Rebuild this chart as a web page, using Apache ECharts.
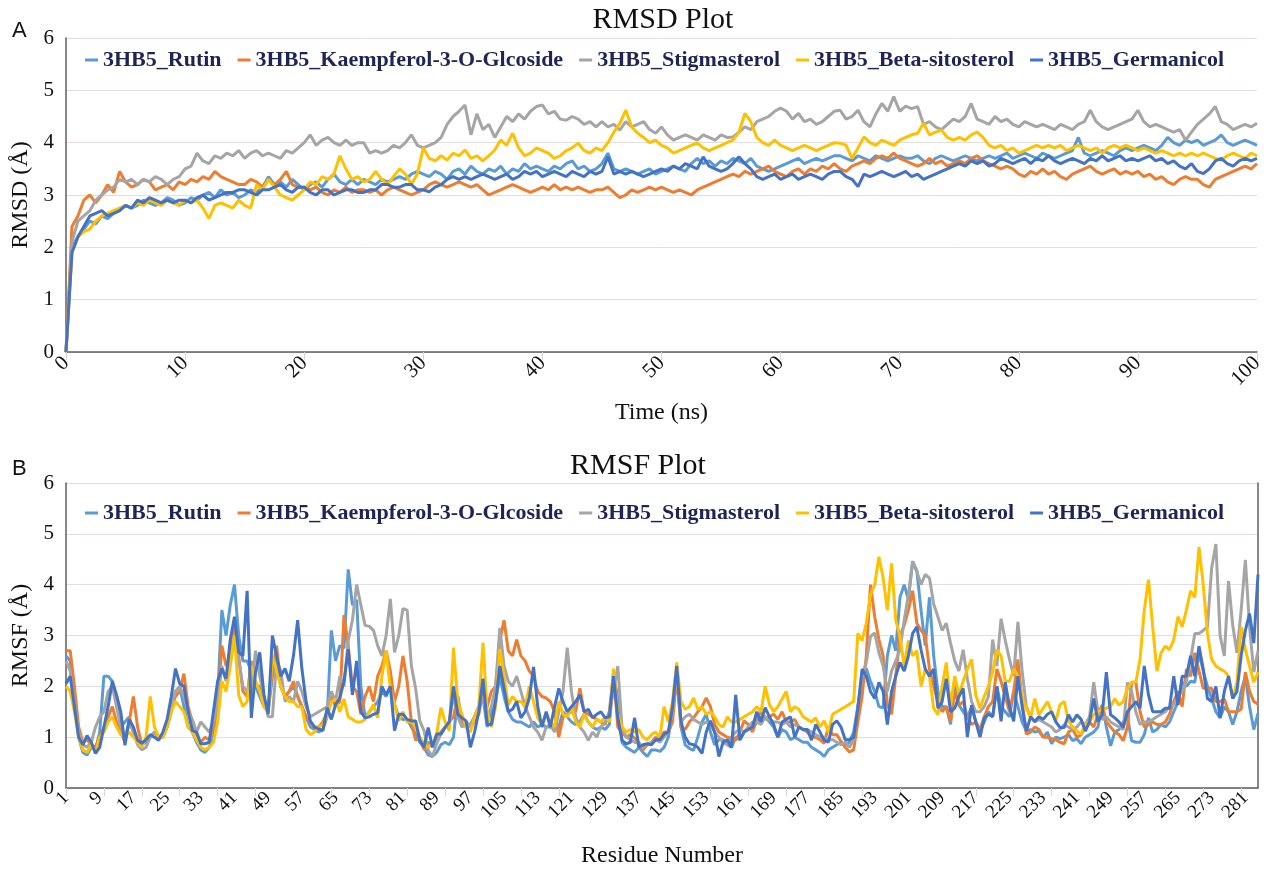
<!DOCTYPE html>
<html>
<head>
<meta charset="UTF-8">
<title>RMSD / RMSF Plot</title>
<style>
  html, body { margin: 0; padding: 0; background: #fff; }
  #chart { width: 1268px; height: 869px; }
</style>
</head>
<body>
<div id="chart"></div>
<script src="https://cdn.jsdelivr.net/npm/echarts/dist/echarts.min.js"></script>
<script>
// series names and colours (Excel palette)
var names = ['3HB5_Rutin', '3HB5_Kaempferol-3-O-Glcoside', '3HB5_Stigmasterol', '3HB5_Beta-sitosterol', '3HB5_Germanicol'];
var colors = ['#5b9bd5', '#ed7d31', '#a5a5a5', '#ffc000', '#4472c4'];

// RMSD: one value every 0.5 ns, 0..100 ns
var rmsdRutin = [
  0, 2.0, 2.2, 2.35, 2.5, 2.45, 2.6, 2.55, 2.65, 2.7,
  2.8, 2.75, 2.8, 2.9, 2.85, 2.8, 2.85, 2.95, 2.9, 2.8,
  2.85, 2.95, 2.9, 3.0, 3.05, 2.95, 3.1, 3.0, 3.05, 2.95,
  3.0, 3.1, 3.05, 3.15, 3.35, 3.2, 3.25, 3.15, 3.3, 3.2,
  3.1, 3.2, 3.25, 3.15, 3.3, 3.4, 3.25, 3.2, 3.3, 3.2,
  3.3, 3.25, 3.2, 3.3, 3.25, 3.3, 3.35, 3.3, 3.4, 3.45,
  3.4, 3.35, 3.45, 3.4, 3.3, 3.45, 3.5, 3.4, 3.55, 3.45,
  3.4, 3.5, 3.45, 3.55, 3.4, 3.5, 3.45, 3.6, 3.5, 3.55,
  3.5, 3.45, 3.55, 3.5, 3.6, 3.65, 3.5, 3.55, 3.45, 3.5,
  3.6, 3.8, 3.5, 3.45, 3.5, 3.45, 3.4, 3.45, 3.5, 3.4,
  3.45, 3.5, 3.55, 3.5, 3.45, 3.6, 3.7, 3.6, 3.65, 3.55,
  3.65, 3.6, 3.7, 3.65, 3.6, 3.7, 3.55, 3.5, 3.45, 3.5,
  3.55, 3.6, 3.65, 3.7, 3.6, 3.65, 3.7, 3.65, 3.7, 3.75,
  3.75, 3.7, 3.65, 3.75, 3.7, 3.65, 3.75, 3.7, 3.65, 3.7,
  3.75, 3.7, 3.7, 3.75, 3.65, 3.6, 3.7, 3.75, 3.7, 3.65,
  3.7, 3.75, 3.7, 3.65, 3.7, 3.75, 3.7, 3.75, 3.8, 3.7,
  3.75, 3.8, 3.75, 3.7, 3.8, 3.75, 3.7, 3.75, 3.8, 3.85,
  4.1, 3.8, 3.75, 3.8, 3.85, 3.8, 3.75, 3.85, 3.9, 3.85,
  3.9, 3.95, 3.9, 3.85, 3.95, 4.1, 4.0, 3.95, 4.05, 4.0,
  4.05, 3.95, 4.0, 4.05, 4.15, 4.0, 3.95, 4.0, 4.05, 4.0,
  3.95
];
var rmsdKaempferol = [
  0, 2.4, 2.6, 2.9, 3.0, 2.85, 3.0, 3.2, 3.05, 3.45,
  3.25, 3.15, 3.2, 3.3, 3.25, 3.1, 3.15, 3.2, 3.1, 3.25,
  3.2, 3.3, 3.25, 3.35, 3.3, 3.45, 3.35, 3.3, 3.25, 3.2,
  3.2, 3.3, 3.25, 3.15, 3.3, 3.2, 3.3, 3.45, 3.2, 3.15,
  3.15, 3.1, 3.15, 3.05, 3.0, 3.1, 3.05, 3.15, 3.05, 3.1,
  3.1, 3.05, 3.1, 3.0, 3.1, 3.15, 3.1, 3.05, 3.0, 3.05,
  3.1, 3.2, 3.25, 3.2, 3.15, 3.2, 3.25, 3.2, 3.15, 3.2,
  3.1, 3.0, 3.05, 3.1, 3.15, 3.2, 3.15, 3.1, 3.05, 3.1,
  3.15, 3.1, 3.2, 3.1, 3.15, 3.1, 3.15, 3.1, 3.05, 3.1,
  3.1, 3.15, 3.05, 2.95, 3.0, 3.1, 3.05, 3.1, 3.15, 3.1,
  3.15, 3.1, 3.05, 3.1, 3.05, 3.0, 3.1, 3.15, 3.2, 3.25,
  3.3, 3.35, 3.4, 3.35, 3.45, 3.4, 3.45, 3.5, 3.55, 3.45,
  3.4, 3.35, 3.45, 3.5, 3.4, 3.5, 3.45, 3.55, 3.5, 3.6,
  3.5, 3.45, 3.55, 3.6, 3.65, 3.6, 3.7, 3.75, 3.7, 3.8,
  3.7, 3.65, 3.6, 3.55, 3.6, 3.7, 3.6, 3.65, 3.55, 3.6,
  3.65, 3.6, 3.7, 3.75, 3.65, 3.6, 3.55, 3.5, 3.55, 3.5,
  3.4, 3.35, 3.45, 3.4, 3.5, 3.4, 3.45, 3.35, 3.3, 3.4,
  3.45, 3.5, 3.55, 3.45, 3.4, 3.45, 3.5, 3.4, 3.45, 3.4,
  3.45, 3.35, 3.4, 3.3, 3.35, 3.25, 3.2, 3.3, 3.35, 3.3,
  3.3, 3.2, 3.15, 3.3, 3.35, 3.4, 3.45, 3.5, 3.55, 3.5,
  3.6
];
var rmsdStigmasterol = [
  0, 2.1, 2.5, 2.6, 2.7, 2.9, 3.0, 3.1, 3.15, 3.3,
  3.25, 3.3, 3.2, 3.3, 3.25, 3.35, 3.3, 3.2, 3.3, 3.35,
  3.5, 3.55, 3.8, 3.65, 3.6, 3.75, 3.7, 3.8, 3.75, 3.85,
  3.7, 3.8, 3.85, 3.75, 3.8, 3.75, 3.7, 3.85, 3.8, 3.9,
  4.0, 4.15, 3.95, 4.05, 4.1, 4.0, 3.95, 4.05, 3.95, 4.0,
  4.0, 3.8, 3.85, 3.8, 3.85, 3.95, 3.9, 4.0, 4.15, 3.95,
  3.9, 3.95, 4.0, 4.1, 4.35, 4.5, 4.6, 4.72, 4.15, 4.55,
  4.25, 4.35, 4.1, 4.3, 4.5, 4.4, 4.55, 4.45, 4.6, 4.69,
  4.72, 4.55, 4.6, 4.45, 4.43, 4.5, 4.45, 4.35, 4.4, 4.3,
  4.4, 4.3, 4.35, 4.24, 4.4, 4.3, 4.35, 4.4, 4.25, 4.18,
  4.3, 4.15, 4.05, 4.1, 4.15, 4.1, 4.05, 4.15, 4.1, 4.05,
  4.15, 4.1, 4.11, 4.2, 4.3, 4.25, 4.4, 4.45, 4.5, 4.6,
  4.66, 4.6, 4.45, 4.56, 4.4, 4.45, 4.35, 4.4, 4.5, 4.6,
  4.62, 4.45, 4.5, 4.62, 4.4, 4.3, 4.55, 4.75, 4.6, 4.88,
  4.6, 4.7, 4.65, 4.69, 4.35, 4.4, 4.3, 4.25, 4.35, 4.45,
  4.4, 4.5, 4.75, 4.45, 4.4, 4.35, 4.5, 4.4, 4.45, 4.35,
  4.3, 4.4, 4.35, 4.3, 4.35, 4.3, 4.25, 4.35, 4.3, 4.25,
  4.35, 4.4, 4.62, 4.4, 4.3, 4.25, 4.3, 4.35, 4.4, 4.45,
  4.62, 4.4, 4.3, 4.35, 4.3, 4.25, 4.2, 4.25, 4.05, 4.2,
  4.35, 4.45, 4.55, 4.69, 4.4, 4.35, 4.25, 4.3, 4.35, 4.3,
  4.37
];
var rmsdBeta = [
  0, 1.9, 2.2, 2.3, 2.35, 2.5, 2.6, 2.65, 2.7, 2.75,
  2.8, 2.75, 2.85, 2.8, 2.9, 2.85, 2.8, 2.9, 2.85, 2.8,
  2.9, 2.85, 2.9, 2.75, 2.55, 2.8, 2.85, 2.8, 2.75, 2.9,
  2.8, 2.75, 3.2, 3.1, 3.3, 3.15, 3.0, 2.95, 2.9, 3.0,
  3.1, 3.25, 3.2, 3.35, 3.3, 3.4, 3.75, 3.5, 3.3, 3.35,
  3.25, 3.3, 3.45, 3.3, 3.2, 3.35, 3.5, 3.4, 3.2, 3.4,
  3.9, 3.7, 3.65, 3.75, 3.67, 3.8, 3.75, 3.86, 3.7, 3.75,
  3.65, 3.75, 3.86, 4.05, 3.95, 4.18, 3.9, 3.75, 3.8, 3.9,
  3.85, 3.8, 3.7, 3.75, 3.85, 3.9, 3.99, 3.85, 3.8, 3.9,
  3.85, 4.0, 4.2, 4.37, 4.62, 4.3, 4.18, 4.1, 4.0, 4.05,
  3.95, 3.9, 3.8, 3.85, 3.9, 3.95, 3.99, 3.9, 3.85, 3.9,
  3.95, 4.0, 4.05, 4.2, 4.56, 4.4, 4.1, 4.0, 3.95, 4.05,
  3.95, 3.9, 3.85, 3.9, 3.95, 3.9, 3.85, 3.9, 3.95, 4.0,
  3.99, 3.95, 3.7, 3.9, 4.11, 4.0, 3.95, 4.05, 4.0, 3.95,
  4.05, 4.1, 4.15, 4.18, 4.37, 4.15, 4.2, 4.24, 4.1, 4.05,
  4.1, 4.05, 4.15, 4.2, 4.1, 3.95, 3.9, 3.95, 3.85, 3.9,
  3.8, 3.85, 3.9, 3.95, 3.9, 3.95, 3.9, 3.95, 3.85, 3.9,
  3.95, 3.9, 3.85, 3.9, 3.8, 3.9, 3.95, 3.9, 3.95, 3.9,
  3.85, 3.9, 3.85, 3.8, 3.85, 3.8, 3.75, 3.8, 3.75, 3.8,
  3.75, 3.8, 3.75, 3.7, 3.67, 3.75, 3.8, 3.75, 3.7, 3.8,
  3.75
];
var rmsdGermanicol = [
  0, 1.9, 2.2, 2.4, 2.6, 2.65, 2.7, 2.6, 2.65, 2.7,
  2.8, 2.75, 2.9, 2.85, 2.95, 2.9, 2.85, 2.9, 2.85, 2.9,
  2.9, 2.85, 2.95, 3.0, 2.9, 2.95, 3.0, 3.05, 3.05, 3.1,
  3.1, 3.05, 3.0, 3.1, 3.1, 3.15, 3.2, 3.1, 3.05, 3.15,
  3.15, 3.05, 3.0, 3.1, 3.1, 3.0, 3.05, 3.1, 3.1, 3.05,
  3.05, 3.1, 3.1, 3.2, 3.2, 3.15, 3.15, 3.2, 3.2, 3.1,
  3.1, 3.06, 3.15, 3.2, 3.3, 3.35, 3.3, 3.35, 3.3, 3.35,
  3.4, 3.35, 3.3, 3.35, 3.4, 3.3, 3.35, 3.45, 3.4, 3.45,
  3.35, 3.4, 3.45, 3.4, 3.35, 3.45, 3.4, 3.35, 3.45, 3.4,
  3.45, 3.73, 3.4, 3.45, 3.4, 3.45, 3.4, 3.35, 3.4, 3.45,
  3.5, 3.45, 3.55, 3.5, 3.6, 3.55, 3.5, 3.73, 3.55, 3.5,
  3.45, 3.5, 3.6, 3.73, 3.6, 3.5, 3.35, 3.3, 3.35, 3.4,
  3.3, 3.35, 3.4, 3.3, 3.35, 3.4, 3.35, 3.3, 3.4, 3.45,
  3.45, 3.35, 3.3, 3.16, 3.4, 3.35, 3.4, 3.45, 3.4, 3.35,
  3.4, 3.45, 3.35, 3.4, 3.3, 3.35, 3.4, 3.45, 3.5, 3.55,
  3.6, 3.55, 3.65, 3.6, 3.65, 3.55, 3.6, 3.7, 3.65, 3.6,
  3.65, 3.7, 3.6, 3.7, 3.65, 3.75, 3.65, 3.6, 3.65, 3.7,
  3.65, 3.6, 3.7, 3.65, 3.75, 3.65, 3.7, 3.75, 3.65, 3.7,
  3.65, 3.7, 3.75, 3.65, 3.7, 3.6, 3.65, 3.55, 3.5, 3.6,
  3.45, 3.41, 3.5, 3.65, 3.7, 3.6, 3.55, 3.65, 3.7, 3.65,
  3.7
];

// RMSF: residues 1..284
var rmsfRutin = [
  2.6, 2.5, 1.8, 1.0, 0.7, 0.65, 0.8, 0.75, 1.1, 2.2,
  2.2, 2.1, 1.7, 1.2, 1.3, 1.4, 1.1, 0.9, 0.85, 0.9,
  1.0, 1.1, 1.0, 1.05, 1.2, 1.5, 1.9, 2.0, 1.6, 1.2,
  1.1, 0.9, 0.75, 0.7, 0.8, 1.0, 1.8, 3.5, 3.0, 3.6,
  4.0, 3.0, 2.5, 2.5, 2.3, 2.0, 1.8, 1.6, 1.5, 2.2,
  2.6, 2.0, 1.8, 1.9, 2.0, 1.8, 1.6, 1.4, 1.2, 1.15,
  1.1, 1.15, 1.4, 3.1, 2.5, 2.8, 2.75, 4.3, 3.6, 3.7,
  2.0, 1.4, 1.5, 1.6, 1.7, 1.9, 1.8, 2.0, 1.65, 1.4,
  1.35, 1.35, 1.2, 1.06, 0.9, 0.8, 0.65, 0.62, 0.7, 0.85,
  0.9, 0.85, 1.0, 1.8, 1.3, 1.2, 1.25, 1.4, 1.6, 1.77,
  1.2, 1.5, 1.7, 2.2, 1.8, 1.5, 1.35, 1.3, 1.3, 1.25,
  1.2, 1.3, 1.2, 1.25, 1.2, 1.2, 1.15, 1.2, 1.5, 1.4,
  1.3, 1.25, 1.3, 1.45, 1.3, 1.2, 1.15, 1.2, 1.15, 1.25,
  2.2, 1.8, 0.9, 0.8, 0.75, 0.7, 0.8, 0.7, 0.62, 0.75,
  0.75, 0.72, 0.8, 1.0, 1.5, 2.35, 1.2, 0.85, 0.78, 0.74,
  1.0, 1.3, 1.45, 1.1, 0.85, 0.95, 0.95, 0.85, 0.8, 1.0,
  0.95, 1.1, 1.2, 1.15, 1.3, 1.4, 1.4, 1.3, 1.2, 1.0,
  1.15, 1.1, 0.95, 1.0, 0.95, 0.9, 0.9, 0.8, 0.75, 0.7,
  0.62, 0.75, 0.8, 0.85, 0.9, 0.85, 0.9, 1.1, 1.6, 2.15,
  2.35, 2.1, 1.9, 1.6, 1.58, 2.6, 3.0, 2.7, 3.75, 4.0,
  3.7, 4.46, 4.27, 3.5, 2.8, 3.75, 2.6, 1.9, 1.6, 1.6,
  1.25, 2.1, 1.63, 1.5, 1.38, 1.6, 1.3, 1.12, 1.3, 1.5,
  1.4, 2.0, 1.6, 1.5, 1.4, 1.9, 1.6, 1.3, 1.12, 1.15,
  1.1, 1.12, 1.0, 1.1, 0.87, 1.0, 0.97, 1.0, 1.05, 0.93,
  0.97, 0.87, 1.0, 1.05, 1.1, 1.2, 1.63, 1.2, 0.83, 1.1,
  1.15, 1.3, 1.4, 0.93, 0.9, 0.9, 1.05, 1.38, 1.1, 1.15,
  1.25, 1.2, 1.3, 1.5, 1.7, 2.08, 2.0, 2.1, 2.08, 2.66,
  2.3, 2.0, 1.76, 1.5, 1.38, 1.6, 1.5, 1.25, 1.5, 1.9,
  2.2, 1.6, 1.15, 1.47
];
var rmsfKaempferol = [
  2.7, 2.7, 2.0, 1.2, 0.9, 0.95, 0.85, 0.8, 1.0, 1.2,
  1.4, 1.6, 1.3, 1.1, 0.9, 1.3, 1.8, 1.2, 0.85, 0.95,
  1.0, 1.1, 1.0, 1.0, 1.2, 1.6, 1.8, 1.9, 2.25, 1.6,
  1.3, 1.0, 0.9, 1.0, 0.95, 1.2, 1.7, 2.8, 2.4, 2.6,
  3.2, 2.6, 1.9, 1.8, 2.5, 2.0, 2.0, 1.7, 1.6, 2.3,
  2.8, 2.0, 1.8, 1.9, 2.1, 1.8, 1.6, 1.4, 1.3, 1.2,
  1.2, 1.3, 1.5, 1.8, 1.6, 1.7, 3.4, 2.8, 2.0, 1.9,
  1.45, 1.8, 2.0, 1.7, 2.2, 2.4, 2.7, 2.3, 1.7, 2.0,
  2.6, 2.1, 1.3, 0.94, 1.0, 0.75, 0.9, 0.85, 1.0, 1.1,
  1.2, 1.3, 1.4, 1.8, 1.2, 1.3, 1.2, 1.3, 1.45, 1.9,
  1.6, 1.9, 2.0, 2.9, 3.3, 2.7, 2.6, 2.92, 2.6, 2.5,
  2.3, 2.2, 1.9, 1.8, 1.77, 1.7, 1.5, 1.0, 1.4, 1.45,
  1.5, 1.5, 1.96, 1.5, 1.45, 1.4, 1.35, 1.3, 1.25, 1.5,
  2.28, 1.2, 1.1, 1.0, 1.05, 0.98, 0.9, 0.75, 0.85, 0.9,
  1.0, 0.95, 1.1, 1.1, 1.3, 2.2, 1.2, 1.15, 1.3, 1.38,
  1.5, 1.6, 1.77, 1.6, 1.25, 1.1, 1.05, 1.0, 0.98, 0.94,
  1.1, 1.32, 1.25, 1.1, 1.38, 1.5, 1.35, 1.4, 1.45, 1.35,
  1.5, 1.3, 1.3, 1.35, 1.2, 1.15, 1.1, 1.0, 1.0, 0.95,
  0.88, 1.2, 1.05, 1.05, 0.92, 0.8, 0.71, 0.75, 1.3, 1.8,
  2.6, 4.0, 3.37, 2.92, 2.6, 1.64, 1.45, 2.2, 3.0, 3.2,
  3.5, 3.88, 3.24, 3.1, 3.0, 2.34, 2.0, 1.7, 1.5, 1.6,
  1.3, 1.9, 1.63, 1.7, 1.4, 1.25, 1.3, 1.15, 1.4, 1.6,
  1.7, 2.34, 2.1, 1.8, 1.5, 1.9, 2.53, 1.7, 1.06, 1.1,
  1.2, 1.15, 1.0, 1.0, 0.97, 0.95, 0.9, 0.87, 1.1, 1.15,
  1.0, 1.05, 1.2, 1.3, 1.2, 1.45, 1.63, 1.3, 1.2, 1.1,
  1.05, 0.93, 1.2, 2.08, 2.08, 1.5, 1.2, 1.25, 1.3, 1.25,
  1.25, 1.3, 1.45, 1.7, 1.9, 1.6, 2.34, 2.2, 2.66, 2.3,
  1.96, 1.96, 1.96, 1.7, 1.7, 1.75, 1.5, 1.5, 1.5, 1.55,
  2.28, 1.9, 1.7, 1.65
];
var rmsfStigmasterol = [
  2.5, 2.3, 1.7, 1.1, 0.85, 0.8, 0.9, 1.2, 1.4, 1.5,
  1.9, 2.0, 1.6, 1.2, 1.0, 1.3, 1.1, 0.85, 0.75, 0.8,
  1.0, 1.1, 1.0, 1.05, 1.2, 1.6, 1.9, 2.0, 1.8, 1.5,
  1.35, 1.1, 1.3, 1.2, 1.1, 1.3, 1.7, 2.4, 2.1, 2.5,
  3.0, 2.5, 2.0, 1.9, 1.9, 2.7, 2.2, 1.8, 1.4, 1.4,
  2.5, 2.3, 1.7, 1.8, 1.7, 2.1, 1.9, 1.6, 1.4, 1.45,
  1.5, 1.55, 1.6, 1.9, 1.7, 2.2, 2.0, 2.9, 3.3, 4.0,
  3.6, 3.2, 3.18, 3.1, 2.8, 2.6, 3.0, 3.72, 2.67, 3.0,
  3.53, 3.5, 2.4, 1.96, 1.32, 1.13, 0.74, 0.62, 0.87, 1.06,
  1.19, 1.3, 1.83, 1.4, 1.2, 1.3, 1.2, 1.4, 1.6, 1.8,
  1.4, 1.6, 2.0, 3.15, 2.4, 2.1, 2.0, 2.2, 1.9, 1.6,
  1.4, 1.2, 1.1, 0.94, 1.2, 1.25, 1.1, 1.5, 1.9, 2.76,
  1.9, 1.4, 1.2, 1.1, 0.94, 1.1, 1.0, 1.2, 1.3, 1.5,
  1.9, 2.4, 1.2, 1.0, 0.95, 0.9, 0.88, 0.8, 0.85, 0.9,
  0.95, 0.9, 1.0, 1.1, 1.5, 2.3, 1.3, 1.4, 1.45, 1.35,
  1.3, 1.25, 1.3, 1.25, 1.1, 1.0, 0.9, 0.85, 1.0, 1.1,
  1.15, 1.1, 1.2, 1.3, 1.3, 1.25, 1.4, 1.35, 1.3, 1.3,
  1.25, 1.3, 1.2, 1.25, 1.2, 1.15, 1.15, 1.1, 1.05, 1.0,
  1.0, 0.95, 0.95, 0.9, 0.85, 0.9, 0.8, 0.95, 1.6, 2.2,
  2.47, 2.98, 3.05, 2.66, 2.4, 1.9, 2.3, 2.5, 2.72, 3.3,
  3.8, 4.45, 4.26, 4.0, 4.2, 4.13, 3.62, 3.37, 3.1, 3.24,
  2.85, 2.5, 2.3, 2.72, 2.15, 1.7, 1.5, 1.5, 1.6, 1.8,
  2.92, 2.4, 3.33, 2.9, 2.53, 2.2, 3.27, 2.3, 1.6, 1.4,
  1.3, 1.35, 1.3, 1.25, 1.2, 1.1, 1.15, 1.25, 1.2, 1.15,
  1.2, 1.3, 1.25, 1.4, 2.08, 1.5, 1.35, 1.4, 1.3, 1.25,
  1.2, 1.15, 2.08, 1.9, 1.5, 1.25, 1.3, 1.3, 1.35, 1.4,
  1.45, 1.5, 1.6, 1.65, 1.8, 1.9, 2.1, 2.53, 3.04, 3.04,
  3.1, 3.17, 4.33, 4.8, 3.0, 2.6, 4.07, 3.2, 2.66, 3.5,
  4.49, 3.17, 2.28, 2.7
];
var rmsfBeta = [
  2.0, 1.9, 1.5, 1.0, 0.75, 0.7, 0.85, 0.7, 1.0, 1.1,
  1.3, 1.4, 1.2, 1.05, 1.0, 1.1, 1.0, 0.9, 0.8, 1.0,
  1.8, 1.2, 1.0, 1.0, 1.2, 1.5, 1.7, 1.6, 1.5, 1.2,
  1.1, 0.95, 0.8, 0.75, 0.8, 0.9, 1.3, 2.1, 1.9, 2.4,
  3.0, 1.83, 1.6, 1.7, 2.4, 2.1, 1.9, 1.6, 1.5, 2.6,
  2.3, 2.0, 1.8, 1.7, 1.7, 1.6, 1.6, 1.15, 1.05, 1.1,
  1.2, 1.25, 1.4, 1.7, 1.75, 1.5, 1.75, 1.4, 1.35, 1.3,
  1.3, 1.35, 1.5, 1.64, 1.38, 2.2, 2.7, 1.96, 1.64, 1.32,
  1.5, 1.3, 1.3, 1.2, 1.0, 0.87, 0.8, 0.85, 1.06, 1.58,
  1.3, 1.13, 2.76, 1.7, 1.45, 1.2, 1.1, 1.4, 1.6, 2.86,
  1.5, 1.2, 1.6, 2.73, 2.2, 1.64, 1.8, 1.7, 1.7, 1.6,
  2.0, 1.7, 1.38, 1.25, 1.45, 1.3, 1.2, 1.7, 1.45, 1.4,
  1.6, 1.3, 1.2, 1.45, 1.3, 1.2, 1.35, 1.3, 1.4, 1.3,
  2.35, 1.45, 1.2, 1.1, 1.15, 1.1, 1.15, 1.0, 0.95, 1.05,
  1.1, 1.0, 1.6, 1.3, 1.7, 2.47, 1.7, 1.55, 1.6, 1.77,
  1.55, 1.6, 1.45, 1.5, 1.4, 1.25, 1.2, 1.4, 1.3, 1.3,
  1.35, 1.4, 1.45, 1.5, 1.6, 1.5, 2.0, 1.64, 1.5, 1.6,
  1.75, 1.9, 1.5, 1.6, 1.55, 1.4, 1.35, 1.3, 1.38, 1.2,
  1.32, 1.1, 1.45, 1.5, 1.55, 1.6, 1.65, 1.7, 3.04, 2.9,
  3.24, 3.8, 4.0, 4.55, 4.13, 3.5, 4.42, 3.3, 2.98, 2.4,
  2.9, 2.6, 2.7, 2.0, 2.34, 2.2, 1.57, 1.44, 2.0, 2.47,
  1.6, 2.2, 1.83, 2.1, 2.34, 2.53, 1.83, 1.57, 1.8, 2.0,
  2.28, 2.72, 2.6, 2.1, 2.1, 2.34, 2.2, 1.8, 1.57, 1.38,
  1.76, 1.44, 1.57, 1.7, 1.5, 1.32, 1.64, 1.7, 1.32, 1.2,
  1.12, 1.06, 1.25, 1.3, 1.44, 1.5, 1.55, 1.57, 1.6, 1.76,
  1.63, 1.7, 1.96, 2.08, 2.08, 2.53, 3.5, 4.1, 3.17, 2.3,
  2.66, 2.79, 2.72, 2.92, 3.37, 3.17, 3.5, 3.88, 3.75, 4.74,
  4.0, 3.04, 2.53, 2.4, 2.34, 2.3, 2.2, 1.76, 2.08, 3.17,
  2.72, 2.4, 2.08, 2.28
];
var rmsfGermanicol = [
  2.05, 2.2, 1.6, 1.0, 0.85, 1.03, 0.9, 0.68, 0.8, 1.2,
  1.6, 2.1, 1.83, 1.5, 0.84, 1.35, 1.2, 0.94, 0.88, 0.95,
  1.05, 1.0, 0.94, 1.1, 1.35, 1.8, 2.35, 2.05, 2.0, 1.5,
  1.13, 1.1, 0.87, 0.87, 0.9, 1.5, 2.1, 2.35, 2.15, 2.92,
  3.37, 2.67, 2.6, 3.88, 1.38, 2.28, 2.67, 1.83, 1.45, 3.0,
  2.6, 2.2, 2.35, 2.1, 2.6, 3.3, 2.35, 1.7, 1.32, 1.2,
  1.16, 1.13, 1.58, 1.35, 1.64, 1.77, 2.1, 2.73, 1.83, 2.5,
  1.5, 1.38, 1.4, 1.45, 1.48, 2.0, 1.83, 2.0, 1.13, 1.45,
  1.45, 1.35, 1.32, 1.32, 0.94, 0.8, 1.19, 0.8, 1.06, 1.06,
  1.19, 1.3, 2.0, 1.45, 1.38, 1.32, 0.8, 1.1, 1.5, 2.15,
  1.25, 1.25, 1.7, 2.4, 1.96, 1.5, 1.55, 1.7, 1.38, 1.5,
  1.77, 2.38, 1.6, 1.2, 1.5, 1.2, 1.6, 1.96, 1.7, 1.5,
  1.6, 1.7, 1.83, 1.5, 1.55, 1.38, 1.45, 1.5, 1.38, 1.4,
  2.2, 1.38, 0.94, 0.87, 0.9, 1.38, 0.8, 0.85, 0.87, 0.85,
  0.95, 0.95, 1.06, 1.1, 1.6, 2.4, 1.32, 1.0, 0.87, 0.85,
  0.8, 0.68, 1.1, 1.32, 1.1, 0.62, 0.9, 0.95, 0.8, 1.83,
  0.95, 1.1, 1.15, 1.2, 1.5, 1.3, 1.58, 1.4, 1.25, 1.0,
  1.3, 1.35, 1.4, 1.0, 1.2, 1.15, 1.15, 0.94, 1.25, 1.1,
  0.94, 0.9, 1.25, 1.32, 1.2, 0.95, 0.95, 1.0, 1.57, 2.34,
  2.2, 1.9, 1.76, 2.08, 1.9, 1.25, 1.9, 2.2, 2.47, 2.3,
  2.6, 3.04, 3.17, 2.72, 2.34, 2.2, 2.34, 1.57, 1.7, 2.15,
  1.5, 1.57, 1.8, 1.96, 1.0, 1.63, 1.3, 1.0, 1.38, 1.45,
  1.4, 2.0, 1.31, 2.08, 1.6, 1.31, 2.2, 1.6, 1.12, 1.4,
  1.31, 1.4, 1.35, 1.45, 1.5, 1.3, 1.19, 1.19, 1.44, 1.3,
  1.44, 1.35, 1.12, 1.3, 1.76, 1.31, 1.44, 2.28, 1.44, 1.38,
  1.3, 1.19, 1.5, 1.6, 1.7, 1.57, 2.4, 1.83, 1.5, 1.5,
  1.5, 1.57, 1.57, 2.2, 1.63, 2.2, 2.2, 2.6, 2.2, 2.79,
  2.34, 1.76, 1.7, 2.0, 1.38, 1.9, 2.2, 1.76, 1.9, 2.6,
  3.1, 3.43, 2.85, 4.2
];

// sampling grids
var times = [];
for (var i = 0; i <= 200; i++) times.push(i * 0.5);
var residues = [];
for (var r = 1; r <= 284; r++) residues.push(String(r));

var rmsdAll = [rmsdRutin, rmsdKaempferol, rmsdStigmasterol, rmsdBeta, rmsdGermanicol];
var rmsfAll = [rmsfRutin, rmsfKaempferol, rmsfStigmasterol, rmsfBeta, rmsfGermanicol];

var serif = 'Liberation Serif';
var gridColor = '#e3dddd';
var frameColor = '#5f5f5f';
var lightAxis = '#d6d6d6';

var chart = echarts.init(document.getElementById('chart'));

var series = [];
names.forEach(function (name, k) {
  series.push({
    name: name, type: 'line', xAxisIndex: 0, yAxisIndex: 0,
    data: times.map(function (t, i) { return [t, rmsdAll[k][i]]; }),
    showSymbol: false, color: colors[k],
    lineStyle: { width: 3, color: colors[k] }
  });
});
names.forEach(function (name, k) {
  series.push({
    name: name, type: 'line', xAxisIndex: 2, yAxisIndex: 2,
    data: rmsfAll[k],
    showSymbol: false, color: colors[k],
    lineStyle: { width: 3, color: colors[k] }
  });
});

function legendAt(top) {
  return {
    data: names, top: top, left: 80,
    icon: 'rect', itemWidth: 13, itemHeight: 3, itemGap: 16,
    textStyle: { fontFamily: serif, fontWeight: 'bold', fontSize: 22, color: '#1e2456' }
  };
}

function frameAxis(grid, pos, isX) {
  return {
    gridIndex: grid, type: 'value', position: pos, min: 0, max: isX ? 1 : 6,
    axisLine: { show: true, lineStyle: { color: frameColor, width: 1.5 } },
    axisTick: { show: false }, axisLabel: { show: false }, splitLine: { show: false }
  };
}

var option = {
  animation: false,
  backgroundColor: '#fff',
  graphic: [
    { type: 'text', left: 12, top: 20, style: { text: 'A', font: '22px "Liberation Sans"', fill: '#111' } },
    { type: 'text', left: 12, top: 458, style: { text: 'B', font: '22px "Liberation Sans"', fill: '#111' } },
    { type: 'text', x: 663, y: 20, style: { text: 'RMSD Plot', font: '30px "Liberation Serif"', fill: '#111', textAlign: 'center', textVerticalAlign: 'middle' } },
    { type: 'text', x: 638, y: 466, style: { text: 'RMSF Plot', font: '30px "Liberation Serif"', fill: '#111', textAlign: 'center', textVerticalAlign: 'middle' } }
  ],
  legend: [legendAt(44), legendAt(497)],
  grid: [
    { left: 66, right: 11, top: 38, height: 314 },
    { left: 66, right: 10, top: 483, height: 312 }
  ],
  xAxis: [
    {
      gridIndex: 0, type: 'value', min: 0, max: 100, interval: 10,
      name: 'Time (ns)', nameLocation: 'middle', nameGap: 49,
      nameTextStyle: { fontFamily: serif, fontSize: 24, color: '#111' },
      axisLine: { show: true, lineStyle: { color: lightAxis } },
      axisTick: { show: true, length: 8, lineStyle: { color: lightAxis } },
      axisLabel: { rotate: 45, margin: 8, fontFamily: serif, fontSize: 21, color: '#111' },
      splitLine: { show: false }
    },
    frameAxis(0, 'top', true),
    {
      gridIndex: 1, type: 'category', data: residues, boundaryGap: false,
      name: 'Residue Number', nameLocation: 'middle', nameGap: 56,
      nameTextStyle: { fontFamily: serif, fontSize: 24, color: '#111' },
      axisLine: { show: true, lineStyle: { color: lightAxis } },
      axisTick: { show: true, interval: 8, length: 8, lineStyle: { color: lightAxis } },
      axisLabel: { interval: 7, rotate: 45, margin: 7, fontFamily: serif, fontSize: 19, color: '#111' },
      splitLine: { show: false }
    },
    frameAxis(1, 'top', true)
  ],
  yAxis: [
    {
      gridIndex: 0, type: 'value', min: 0, max: 6, interval: 1,
      name: 'RMSD (Å)', nameLocation: 'middle', nameGap: 25,
      nameTextStyle: { fontFamily: serif, fontSize: 24, color: '#111' },
      axisLine: { show: false }, axisTick: { show: false },
      axisLabel: { margin: 12, fontFamily: serif, fontSize: 21, color: '#111' },
      splitLine: { lineStyle: { color: gridColor } }
    },
    frameAxis(0, 'right', false),
    {
      gridIndex: 1, type: 'value', min: 0, max: 6, interval: 1,
      name: 'RMSF (Å)', nameLocation: 'middle', nameGap: 25,
      nameTextStyle: { fontFamily: serif, fontSize: 24, color: '#111' },
      axisLine: { show: true, lineStyle: { color: frameColor, width: 1.5 } }, axisTick: { show: false },
      axisLabel: { margin: 12, fontFamily: serif, fontSize: 21, color: '#111' },
      splitLine: { lineStyle: { color: gridColor } }
    },
    frameAxis(1, 'right', false)
  ],
  series: series
};

chart.setOption(option);
</script>
</body>
</html>
